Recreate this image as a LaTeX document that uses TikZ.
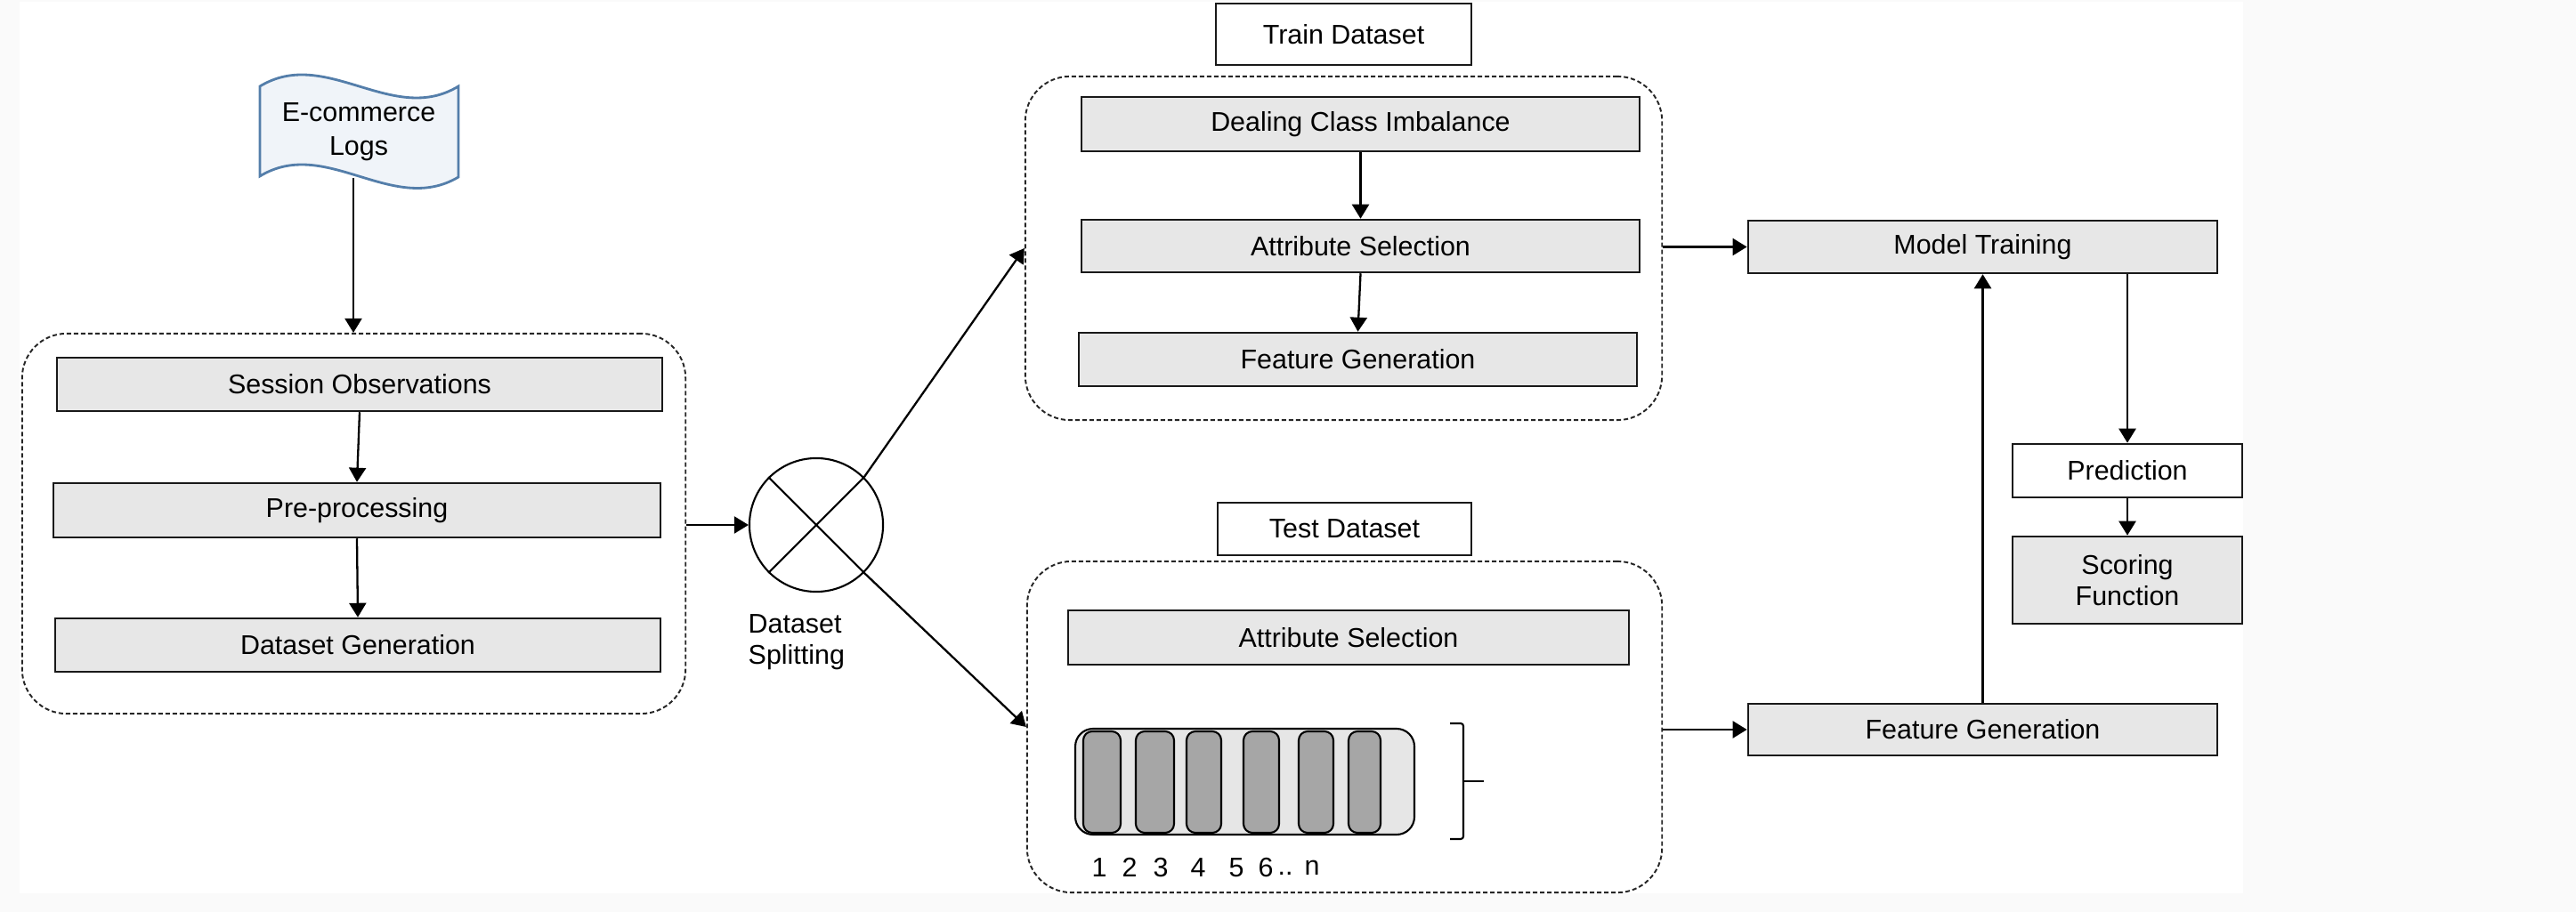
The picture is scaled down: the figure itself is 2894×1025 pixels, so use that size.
\documentclass[tikz,border=0pt]{standalone}
\usepackage{fontspec}
\setmainfont{Liberation Sans}
\usetikzlibrary{arrows.meta,calc}
\definecolor{boxgray}{RGB}{231,231,231}
\definecolor{bgout}{RGB}{250,250,250}
\definecolor{flagfill}{RGB}{240,244,249}
\definecolor{flagline}{RGB}{84,126,170}
\definecolor{celldark}{RGB}{166,166,166}
\definecolor{barlight}{RGB}{230,230,230}
\begin{document}
\begin{tikzpicture}[x=0.01cm,y=-0.01cm,
  font=\fontsize{8.65}{10}\selectfont,
  box/.style={draw=black!90, line width=0.7pt, fill=boxgray, inner sep=0pt},
  lab/.style={draw=black!90, line width=0.7pt, fill=white, inner sep=0pt},
  cont/.style={draw=black!85, dash pattern=on 0.05cm off 0.03cm, line width=0.55pt, rounded corners=0.5cm, inner sep=0pt},
  arr/.style={-{Triangle[length=0.16cm,width=0.19cm]}, line width=0.65pt},
  thin/.style={line width=0.6pt}]
\useasboundingbox (0,0) rectangle (2894,1025);
\fill[bgout] (0,0) rectangle (2894,1025);
\fill[white] (22,2) rectangle (2520,1004);

% left block
\node[cont, minimum width=7.45cm, minimum height=4.27cm] (lc) at (397.5,588.5) {};
\node[box, minimum width=6.8cm, minimum height=0.6cm] (so) at (404,432) {Session Observations};
\node[box, minimum width=6.82cm, minimum height=0.61cm] (pp) at (401,573.5) {Pre-processing};
\node[box, minimum width=6.8cm, minimum height=0.6cm] (dg) at (402,725) {Dataset Generation};
\draw[arr] (so.south) -- (pp.north);
\draw[arr] (pp.south) -- (dg.north);

% flag
\draw[flagline, fill=flagfill, line width=0.8pt] (292,97) .. controls (366,52) and (441,142) .. (515,97) -- (515,199) .. controls (441,243) and (366,153) .. (292,198) -- cycle;
\node[align=center, font=\fontsize{8.65}{10.8}\selectfont] (flag) at (403,148) {E-commerce\\Logs};
\coordinate (flagb) at (397,200);
\draw[arr] (flagb) -- (flagb |- lc.north);

% splitter
\node[circle, draw, thin, minimum size=1.5cm, inner sep=0pt] (sp) at (917,590) {};
\draw[thin] (sp.north west) -- (sp.south east) (sp.south west) -- (sp.north east);
\node[align=left, anchor=west, inner sep=0pt] (spl) at (840,722) {Dataset\\Splitting};

% train
\node[lab, minimum width=2.87cm, minimum height=0.69cm] (trl) at (1509.5,38.5) {Train Dataset};
\node[cont, minimum width=7.15cm, minimum height=3.86cm] (tc) at (1509.5,279) {};
\node[box, minimum width=6.27cm, minimum height=0.61cm] (dci) at (1528.5,139.5) {Dealing Class Imbalance};
\node[box, minimum width=6.27cm, minimum height=0.59cm] (as1) at (1528.5,276.5) {Attribute Selection};
\node[box, minimum width=6.27cm, minimum height=0.6cm] (fg1) at (1525.5,404) {Feature Generation};
\draw[arr] (dci.south) -- (as1.north);
\draw[arr] (as1.south) -- (fg1.north);

% test
\node[lab, minimum width=2.85cm, minimum height=0.59cm] (tel) at (1510.5,594.5) {Test Dataset};
\node[cont, minimum width=7.13cm, minimum height=3.72cm] (tec) at (1510.5,817) {};
\node[box, minimum width=6.3cm, minimum height=0.61cm] (as2) at (1515,716.5) {Attribute Selection};

% bar
\draw[thin, fill=barlight, rounded corners=0.2cm] (1208,819) rectangle (1589,938);
\foreach \a/\b in {1217/1259, 1276/1319, 1333/1372, 1397/1437, 1459/1498, 1515/1551}
  \draw[thin, fill=celldark, rounded corners=0.1cm] (\a,822) rectangle (\b,936);
\foreach \t/\x in {1/1235,2/1269,3/1304,4/1346,5/1389,6/1422,n/1474}
  \node (num\x) at (\x,975) {\t};
\node[anchor=base] (numdots) at ($(num1474.base)+(-30,0)$) {..};
\draw[thin, rounded corners=0.03cm] (1629,813) -- (1644,813) -- (1644,943) -- (1629,943);
\draw[thin] (1644,878) -- (1667,878);

% split arrows
\draw[arr] (lc.east |- sp.west) -- (sp.west);
\draw[arr] (sp.north east) -- (tc.west);
\draw[arr] (sp.south east) -- (tec.west);

% right side
\node[box, minimum width=5.27cm, minimum height=0.59cm] (mt) at (2227.5,277.5) {Model Training};
\node[box, minimum width=5.27cm, minimum height=0.58cm] (fg2) at (2227.5,820) {Feature Generation};
\node[lab, minimum width=2.58cm, minimum height=0.6cm] (pred) at (2390,529) {Prediction};
\node[box, minimum width=2.58cm, minimum height=0.98cm, align=center] (sf) at (2390,652) {Scoring\\Function};
\draw[arr] (tc.east |- mt.west) -- (mt.west);
\draw[arr] (tec.east |- fg2.west) -- (fg2.west);
\draw[arr] (fg2.north) -- (mt.south);
\draw[arr] (pred.north |- mt.south) -- (pred.north);
\draw[arr] (pred.south) -- (sf.north);
\end{tikzpicture}
\end{document}
